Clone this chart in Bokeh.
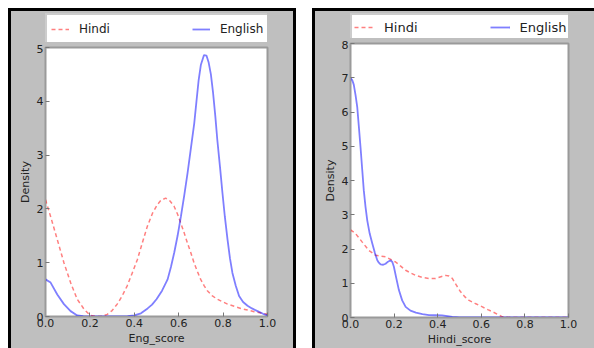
from bokeh.plotting import figure
from bokeh.models import Range1d, FixedTicker, Legend, LegendItem, PrintfTickFormatter, Spacer
from bokeh.layouts import row, column
from bokeh.embed import file_html
from bokeh.resources import INLINE

# ---- Left panel: Eng_score densities ----
eng_x_hindi = [0.0, 0.023, 0.053, 0.083, 0.113, 0.143, 0.173, 0.2, 0.225, 0.248, 0.278, 0.3,
               0.323, 0.345, 0.368, 0.39, 0.414, 0.437, 0.459, 0.482, 0.504, 0.52, 0.541, 0.56,
               0.579, 0.595, 0.609, 0.625, 0.639, 0.655, 0.669, 0.685, 0.699, 0.715, 0.729,
               0.75, 0.774, 0.8, 0.82, 0.85, 0.88, 0.91, 0.94, 0.97, 1.0]
eng_y_hindi = [2.17, 1.86, 1.43, 1.0, 0.63, 0.32, 0.14, 0.025, 0.004, 0.0, 0.04, 0.11,
               0.23, 0.38, 0.57, 0.8, 1.06, 1.38, 1.68, 1.92, 2.08, 2.16, 2.20, 2.15,
               2.05, 1.9, 1.74, 1.55, 1.37, 1.18, 1.0, 0.83, 0.69, 0.57, 0.48,
               0.39, 0.32, 0.27, 0.23, 0.19, 0.15, 0.12, 0.09, 0.065, 0.04]
eng_x_english = [0.0, 0.023, 0.053, 0.083, 0.113, 0.143, 0.17, 0.2, 0.3, 0.37, 0.4, 0.43, 0.46,
                 0.48, 0.5, 0.525, 0.55, 0.565, 0.58, 0.595, 0.61, 0.625, 0.64, 0.655, 0.67,
                 0.68, 0.69, 0.70, 0.714, 0.725, 0.735, 0.745, 0.755, 0.765, 0.774, 0.786,
                 0.797, 0.808, 0.82, 0.831, 0.842, 0.857, 0.872, 0.89, 0.91, 0.93, 0.955, 0.98,
                 1.0]
eng_y_english = [0.69, 0.63, 0.41, 0.23, 0.10, 0.02, 0.005, 0.0, 0.0, 0.005, 0.02, 0.06, 0.15,
                 0.22, 0.32, 0.48, 0.69, 0.92, 1.19, 1.5, 1.86, 2.25, 2.67, 3.13, 3.59,
                 4.0, 4.40, 4.68, 4.86, 4.85, 4.72, 4.5, 4.15, 3.72, 3.28, 2.78,
                 2.30, 1.85, 1.43, 1.08, 0.81, 0.57, 0.38, 0.27, 0.2, 0.15, 0.10, 0.05,
                 0.02]

# ---- Right panel: Hindi_score densities ----
hin_x_hindi = [0.0, 0.023, 0.054, 0.084, 0.115, 0.161, 0.207, 0.23, 0.253, 0.276, 0.299, 0.33,
               0.36, 0.39, 0.415, 0.436, 0.452, 0.467, 0.485, 0.505, 0.525, 0.544, 0.575, 0.605,
               0.63, 0.651, 0.675, 0.697, 0.72, 0.743, 0.8, 0.9, 1.0]
hin_y_hindi = [2.56, 2.45, 2.2, 1.96, 1.82, 1.77, 1.62, 1.5, 1.38, 1.3, 1.23, 1.17,
               1.14, 1.14, 1.19, 1.23, 1.21, 1.14, 0.95, 0.75, 0.6, 0.50, 0.4, 0.31,
               0.23, 0.17, 0.09, 0.02, 0.005, 0.0, 0.0, 0.0, 0.0]
hin_x_english = [0.0, 0.008, 0.015, 0.023, 0.031, 0.038, 0.046, 0.054, 0.061, 0.069, 0.077,
                 0.088, 0.1, 0.112, 0.123, 0.13, 0.138, 0.15, 0.161, 0.172, 0.184, 0.192, 0.199,
                 0.21, 0.222, 0.237, 0.253, 0.275, 0.3, 0.33, 0.36, 0.39, 0.42, 0.445, 0.467,
                 0.5, 0.53, 0.7, 1.0]
hin_y_english = [6.99, 6.93, 6.8, 6.5, 6.14, 5.6, 4.97, 4.3, 3.71, 3.22, 2.83,
                 2.45, 2.16, 1.88, 1.67, 1.6, 1.55, 1.54, 1.57, 1.63, 1.67, 1.62, 1.48,
                 1.15, 0.80, 0.5, 0.31, 0.2, 0.14, 0.1, 0.07, 0.065, 0.06, 0.04, 0.02,
                 0.005, 0.0, 0.0, 0.0]

x_ticks = [0.0, 0.2, 0.4, 0.6, 0.8, 1.0]
left_y_ticks = [0, 1, 2, 3, 4, 5]
right_y_ticks = [0, 1, 2, 3, 4, 5, 6, 7, 8]
series_names = ["Hindi", "English"]

PANEL = "#bfbfbf"
EDGE = "#9a9a9a"
FONT = "DejaVu Sans"
RED = dict(line_color="red", line_alpha=0.5, line_width=1.5, line_dash="4 3")
BLUE = dict(line_color="blue", line_alpha=0.5, line_width=1.8)
NAN = float("nan")


def make_main(xh, yh, xe, ye, ymax, yticks, xlabel, w, h, mb_left, mb_right, mb_top, mb_bottom):
    p = figure(width=w, height=h, output_backend="svg", toolbar_location=None,
               x_range=Range1d(0, 1), y_range=Range1d(0, ymax),
               min_border_left=mb_left, min_border_right=mb_right,
               min_border_top=mb_top, min_border_bottom=mb_bottom,
               styles={"background-color": PANEL})
    p.background_fill_color = "white"
    p.border_fill_color = PANEL
    p.outline_line_color = EDGE
    p.outline_line_width = 2
    p.grid.visible = False
    p.line(xh, yh, **RED)
    p.line(xe, ye, **BLUE)
    for ax in (p.xaxis[0], p.yaxis[0]):
        ax.axis_line_color = EDGE
        ax.major_tick_in = 4
        ax.major_tick_out = 0
        ax.major_tick_line_color = "#777777"
        ax.minor_tick_line_color = None
        ax.major_label_text_font = FONT
        ax.major_label_text_font_size = "11px"
        ax.major_label_text_color = "#222222"
        ax.axis_label_text_font = FONT
        ax.axis_label_text_font_size = "11px"
        ax.axis_label_text_font_style = "normal"
        ax.axis_label_text_color = "#222222"
        ax.major_label_standoff = 2
        ax.axis_label_standoff = 2
    p.xaxis[0].ticker = FixedTicker(ticks=x_ticks)
    p.xaxis[0].formatter = PrintfTickFormatter(format="%.1f")
    p.yaxis[0].ticker = FixedTicker(ticks=yticks)
    p.xaxis[0].axis_label = xlabel
    p.yaxis[0].axis_label = "Density"
    return p


def make_legend(w, h, mb_left, mb_right, mb_top, spacing, standoff, glyph_w, pad, fsize):
    q = figure(width=w, height=h, output_backend="svg", toolbar_location=None,
               x_range=Range1d(0, 1), y_range=Range1d(0, 1),
               x_axis_type=None, y_axis_type=None,
               min_border_left=mb_left, min_border_right=mb_right,
               min_border_top=mb_top, min_border_bottom=2,
               styles={"background-color": PANEL})
    q.background_fill_color = PANEL
    q.border_fill_color = PANEL
    q.outline_line_color = None
    q.grid.visible = False
    # legend-only renderers (no visible data)
    rh = q.line([NAN, NAN], [NAN, NAN], **RED)
    re = q.line([NAN, NAN], [NAN, NAN], **BLUE)
    leg = Legend(items=[LegendItem(label=series_names[0], renderers=[rh]),
                        LegendItem(label=series_names[1], renderers=[re])],
                 orientation="horizontal", location="top_left")
    leg.label_text_font = FONT
    leg.label_text_font_size = fsize
    leg.label_text_color = "#222222"
    leg.background_fill_color = "white"
    leg.background_fill_alpha = 1.0
    leg.border_line_color = EDGE
    leg.border_line_width = 2
    leg.padding = pad
    leg.margin = 0
    leg.spacing = spacing
    leg.label_standoff = standoff
    leg.glyph_width = glyph_w
    leg.glyph_height = 20
    leg.label_height = 20
    q.add_layout(leg)
    return q


def bar(w, h, color):
    return Spacer(width=w, height=h, styles={"background-color": color})


# left panel: inner 282 x 337
legL = make_legend(282, 33, 34, 26, 2, spacing=82, standoff=10, glyph_w=18, pad=4, fsize="12px")
mainL = make_main(eng_x_hindi, eng_y_hindi, eng_x_english, eng_y_english, 5, left_y_ticks,
                  "Eng_score", 282, 304, 34, 26, 3, 32)
# right panel: inner 279 x 337
legR = make_legend(279, 29, 35, 26, 2, spacing=72, standoff=10, glyph_w=20, pad=2, fsize="13px")
mainR = make_main(hin_x_hindi, hin_y_hindi, hin_x_english, hin_y_english, 8, right_y_ticks,
                  "Hindi_score", 279, 308, 35, 26, 3, 30)

innerL = column(legL, mainL, spacing=0, styles={"background-color": PANEL})
innerR = column(legR, mainR, spacing=0, styles={"background-color": PANEL})
panelL = column(bar(288, 3, "black"),
                row(bar(3, 337, "black"), innerL, bar(3, 337, "black"), spacing=0), spacing=0)
panelR = column(bar(282, 3, "black"),
                row(bar(3, 337, "black"), innerR, spacing=0), spacing=0)

layout = column(Spacer(width=594, height=8),
                row(Spacer(width=8, height=340), panelL, Spacer(width=16, height=340), panelR,
                    spacing=0), spacing=0)

open("out.html", "w").write(file_html(layout, INLINE))
